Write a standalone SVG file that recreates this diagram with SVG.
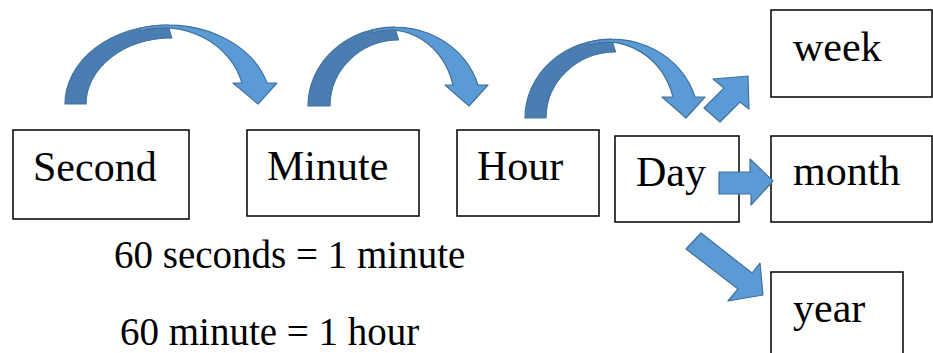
<svg xmlns="http://www.w3.org/2000/svg" width="933" height="353" viewBox="0 0 933 353">
<style>
.box{fill:#fff;stroke:#000;stroke-width:1.5}
.dark{fill:#4a7db1;stroke:#41719c;stroke-width:1.2;stroke-linejoin:round}
.light{fill:#5b9bd5;stroke:#41719c;stroke-width:1.2;stroke-linejoin:round}
</style>
<rect width="933" height="353" fill="#fff"/>
<g font-family="Liberation Serif" fill="#000">
<g id="node-second"><rect class="box" x="13" y="130" width="176" height="89"/><text font-size="42" x="33" y="181">Second</text></g>
<g id="node-minute"><rect class="box" x="247" y="130" width="172" height="86"/><text font-size="42" x="267" y="180">Minute</text></g>
<g id="node-hour"><rect class="box" x="457" y="130" width="142" height="86"/><text font-size="42" x="477" y="180">Hour</text></g>
<g id="node-day"><rect class="box" x="615" y="136" width="124" height="86"/><text font-size="42" x="636" y="186">Day</text></g>
<g id="node-week"><rect class="box" x="771" y="10" width="161" height="87"/><text font-size="42" x="793" y="61">week</text></g>
<g id="node-month"><rect class="box" x="771" y="136" width="161" height="86"/><text font-size="42" x="793" y="185">month</text></g>
<g id="node-year"><rect class="box" x="771" y="272" width="132" height="92"/><text font-size="42" x="793" y="322">year</text></g>
<g id="notes">
  <text font-size="39" x="114" y="268">60 seconds = 1 minute</text>
  <text font-size="39" x="120" y="345">60 minute = 1 hour</text>
</g>
</g>
<g id="connectors">
  <g id="arrow-second-minute">
    <path class="dark" d="M65,104 A102.8,79 0 0 1 167.8,25 L171.8,38 A85.8,66 0 0 0 86,104 Z"/>
    <path class="light" d="M140,28 A102.8,79 0 0 1 267,83 L277,83 L258,104 L233,83 L242,83 A81.5,75 0 0 0 140,31 Z"/>
  </g>
  <g id="arrow-minute-hour">
    <path class="dark" d="M308,106 A86.5,79 0 0 1 394.5,27 L398.5,40 A68.5,66 0 0 0 330,106 Z"/>
    <path class="light" d="M372,30 A86.5,79 0 0 1 478,85 L488,85 L469,106 L445,85 L453,85 A65.1,75 0 0 0 372,33 Z"/>
  </g>
  <g id="arrow-hour-day">
    <path class="dark" d="M525,118 A86.5,79 0 0 1 611.5,39 L615.5,52 A69.5,66 0 0 0 546,118 Z"/>
    <path class="light" d="M589,42 A86.5,79 0 0 1 695,97 L705,97 L686,118 L662,97 L673,97 A68.2,75 0 0 0 589,45 Z"/>
  </g>
  <polygon id="arrow-day-week" class="light" points="704,108 724,88 713,79 748,76 749,109 740,102 720,122"/>
  <polygon id="arrow-day-month" class="light" points="719,172 750,172 750,159 773,181 751,205 751,194 719,194"/>
  <polygon id="arrow-day-year" class="light" points="686,249 738,289 728,301 763,295 760,263 752,273 701,233"/>
</g>
</svg>
